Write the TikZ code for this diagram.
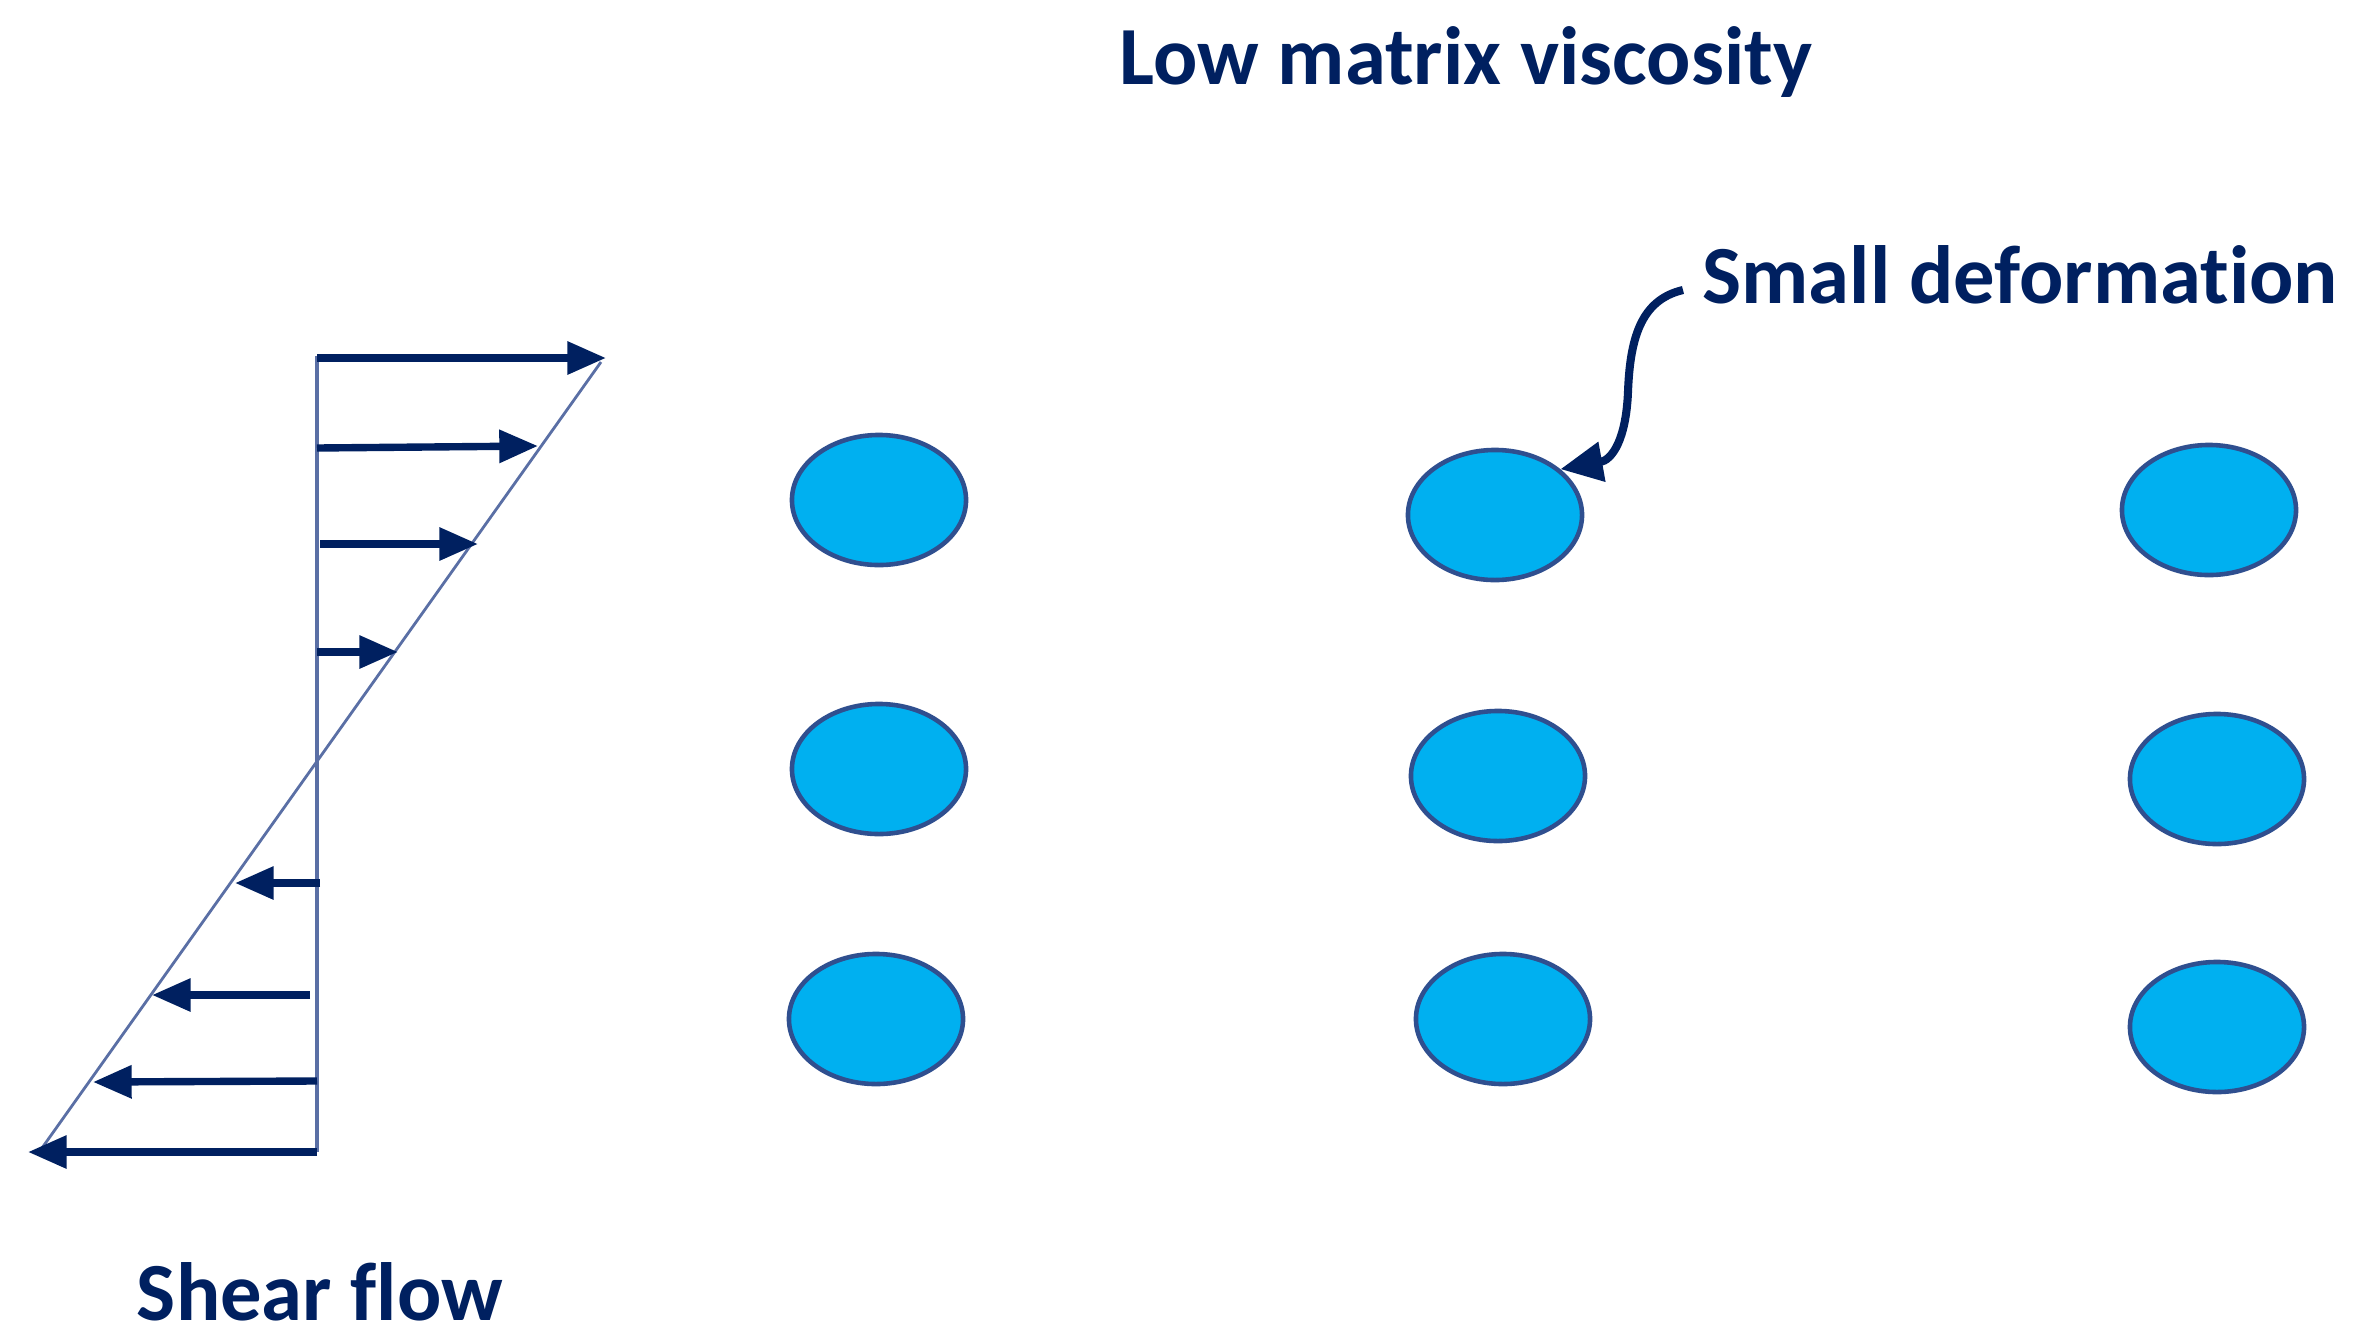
\documentclass[tikz,border=0pt]{standalone}
\usepackage{fontspec}
\setmainfont{Carlito}[RawFeature={-liga}]
\usetikzlibrary{arrows.meta,shapes.geometric}
\definecolor{navy}{HTML}{002060}
\definecolor{dropfill}{HTML}{00B0F0}
\definecolor{dropline}{HTML}{2F4F8F}
\definecolor{axisline}{HTML}{5A6FA5}
\begin{document}
\begin{tikzpicture}[x=0.01cm,y=-0.01cm,
  drop/.style={ellipse,draw=dropline,fill=dropfill,line width=1.3pt,minimum width=1.74cm,minimum height=1.30cm,inner sep=0pt},
  flowarrow/.style={draw=navy,line width=2.1pt,-{Triangle[length=11pt,width=9pt]}},
  lbl/.style={text=navy,font=\bfseries\fontsize{23.5}{26}\selectfont,inner sep=0pt}]
\useasboundingbox (0,0) rectangle (2368,1339);
% shear flow profile
\draw[axisline,line width=0.8pt] (601,362) -- (42,1148);
\draw[axisline,line width=1.4pt] (317,356) -- (317,1152);
\draw[flowarrow] (317,358) -- (606,358);
\draw[flowarrow] (317,448) -- (538,446);
\draw[flowarrow] (320,544) -- (478,544);
\draw[flowarrow] (317,652) -- (398,652);
\draw[flowarrow] (320,883) -- (235,883);
\draw[flowarrow] (310,995) -- (152,995);
\draw[flowarrow] (317,1081) -- (93,1082);
\draw[flowarrow] (317,1152) -- (28,1152);
% droplets
\node[drop] (e11) at (879,500) {};
\node[drop] (e12) at (879,769) {};
\node[drop] (e13) at (876,1019) {};
\node[drop] (e21) at (1495,515) {};
\node[drop] (e22) at (1498,776) {};
\node[drop] (e23) at (1503,1019) {};
\node[drop] (e31) at (2209,510) {};
\node[drop] (e32) at (2217,779) {};
\node[drop] (e33) at (2217,1027) {};
% labels
\node[lbl] (title) at (1466,62) {Low matrix viscosity};
\node[lbl,anchor=west] (small) at (1702,275) {Small deformation};
\node[lbl] (shear) at (320,1292) {Shear flow};
\coordinate (cs) at (1683,290);
\coordinate (cm) at (1628,392);
\draw[navy,line width=2.3pt,-{Triangle[length=12pt,width=11pt]}] (cs) .. controls (1640,300) and (1630,340) .. (cm) .. controls (1626,440) and (1612,460) .. (e21.35);
\end{tikzpicture}
\end{document}
